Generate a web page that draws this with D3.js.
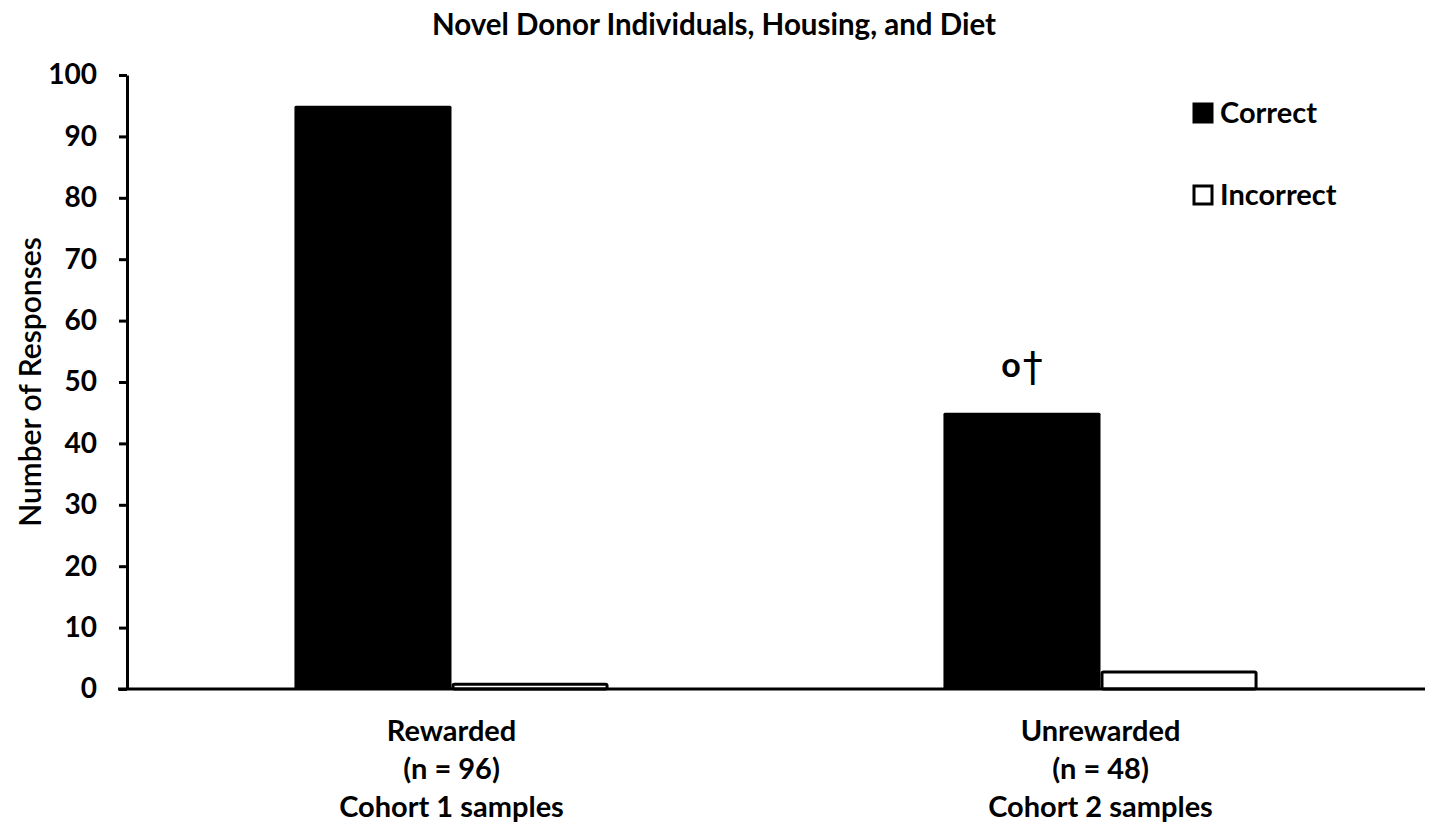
<!DOCTYPE html>
<html lang="en"><head><meta charset="UTF-8">
<title>Novel Donor Individuals, Housing, and Diet</title>
<script src="https://d3js.org/d3.v7.min.js"></script>
<style type="text/css">
  body { margin: 0; background: #fff; }
  text { font-family: Lato, "Open Sans", sans-serif; font-weight: bold; fill: #000; }
</style>
</head>
<body>
<script type="text/javascript">

// data
var groups = ["Rewarded", "Unrewarded"];
var groupLines = [["Rewarded", "(n = 96)", "Cohort 1 samples"],
                  ["Unrewarded", "(n = 48)", "Cohort 2 samples"]];
var series = ["Correct", "Incorrect"];
var correct = [95, 45];
var incorrect = [1, 3];
var yTicks = [0, 10, 20, 30, 40, 50, 60, 70, 80, 90, 100];
var annotations = [{group: "Unrewarded", label: "o\u2020"}];

var w = 1432, h = 822;
var mLeft = 127, mRight = 1425, mTop = 75, mBottom = 689;

var svg = d3.select("body").append("svg")
  .attr("width", w).attr("height", h);

var x0 = d3.scaleBand().domain(groups).range([mLeft, mRight])
  .paddingInner(0.516).paddingOuter(0.258);
var x1 = d3.scaleBand().domain(series).range([0, x0.bandwidth()]);
var y = d3.scaleLinear().domain([0, 100]).range([mBottom, mTop]);

var rows = groups.map(function(g, i) {
  return {group: g, values: [
    {key: "Correct", value: correct[i]},
    {key: "Incorrect", value: incorrect[i]}
  ]};
});

// bars
var g = svg.selectAll("g.grp").data(rows).enter().append("g")
  .attr("class", "grp")
  .attr("transform", function(d) { return "translate(" + x0(d.group) + ",0)"; });

g.selectAll("rect").data(function(d) { return d.values; }).enter().append("rect")
  .attr("x", function(d) { return x1(d.key) + (d.key == "Incorrect" ? 1.5 : 0); })
  .attr("y", function(d) { return y(d.value) + (d.key == "Incorrect" ? 1.5 : 0); })
  .attr("width", function(d) { return x1.bandwidth() - (d.key == "Incorrect" ? 3 : 0); })
  .attr("height", function(d) { return y(0) - y(d.value) - (d.key == "Incorrect" ? 1.5 : 0); })
  .attr("rx", 1.5)
  .style("fill", function(d) { return d.key == "Correct" ? "#000" : "#fff"; })
  .style("stroke", "#000")
  .style("stroke-width", function(d) { return d.key == "Correct" ? 0 : 3; });

// y axis
var yAxis = svg.append("g")
  .attr("transform", "translate(" + mLeft + ",0)")
  .call(d3.axisLeft(y).tickValues(yTicks).tickSize(8).tickSizeOuter(0).tickPadding(22));
yAxis.select(".domain").style("stroke-width", 3);
yAxis.selectAll(".tick line").style("stroke-width", 3);
yAxis.selectAll(".tick text").style("font-size", "28px").style("font-family", "Lato").style("font-weight", "bold");

// x axis baseline
var xAxis = svg.append("g")
  .attr("transform", "translate(0," + mBottom + ")")
  .call(d3.axisBottom(x0).tickSize(0).tickFormat(""));
xAxis.select(".domain").attr("d", "M" + (mLeft - 9) + ",0H" + mRight).style("stroke-width", 3);

// category labels
groupLines.forEach(function(lines, i) {
  var cx = x0(groups[i]) + x0.bandwidth() / 2;
  var t = svg.append("text")
    .attr("x", cx)
    .attr("y", 741)
    .attr("text-anchor", "middle")
    .style("font-size", "29px");
  lines.forEach(function(l, j) {
    t.append("tspan").attr("x", cx)
      .attr("dy", j == 0 ? 0 : 38).text(l);
  });
});

// title
svg.append("text").attr("x", 714).attr("y", 35)
  .attr("text-anchor", "middle").style("font-size", "29.5px")
  .text("Novel Donor Individuals, Housing, and Diet");

// y label
svg.append("text")
  .attr("transform", "translate(41," + 382 + ") rotate(-90)")
  .attr("text-anchor", "middle").style("font-size", "30px").style("font-weight", "600")
  .text("Number of Responses");

// annotation
annotations.forEach(function(a) {
  var i = groups.indexOf(a.group);
  var t = svg.append("text")
    .attr("x", x0(a.group) + x1("Correct") + x1.bandwidth() / 2)
    .attr("y", y(correct[i]) - 36)
    .attr("text-anchor", "middle").style("font-size", "34px");
  t.append("tspan").text(a.label.charAt(0));
  t.append("tspan").attr("dx", 2).attr("dy", 4).style("font-size", "40px")
    .style("font-weight", "normal").style("font-family", "DejaVu Sans").text(a.label.charAt(1));
});

// legend
var legend = svg.selectAll("g.leg").data(series).enter().append("g")
  .attr("class", "leg")
  .attr("transform", function(d, i) { return "translate(1194," + (104 + i * 82) + ")"; });
legend.append("rect").attr("width", 18).attr("height", 18)
  .style("fill", function(d) { return d == "Correct" ? "#000" : "#fff"; })
  .style("stroke", "#000").style("stroke-width", 3);
legend.append("text").attr("x", 26).attr("y", 19).style("font-size", "29px")
  .text(function(d) { return d; });

</script>
</body></html>
